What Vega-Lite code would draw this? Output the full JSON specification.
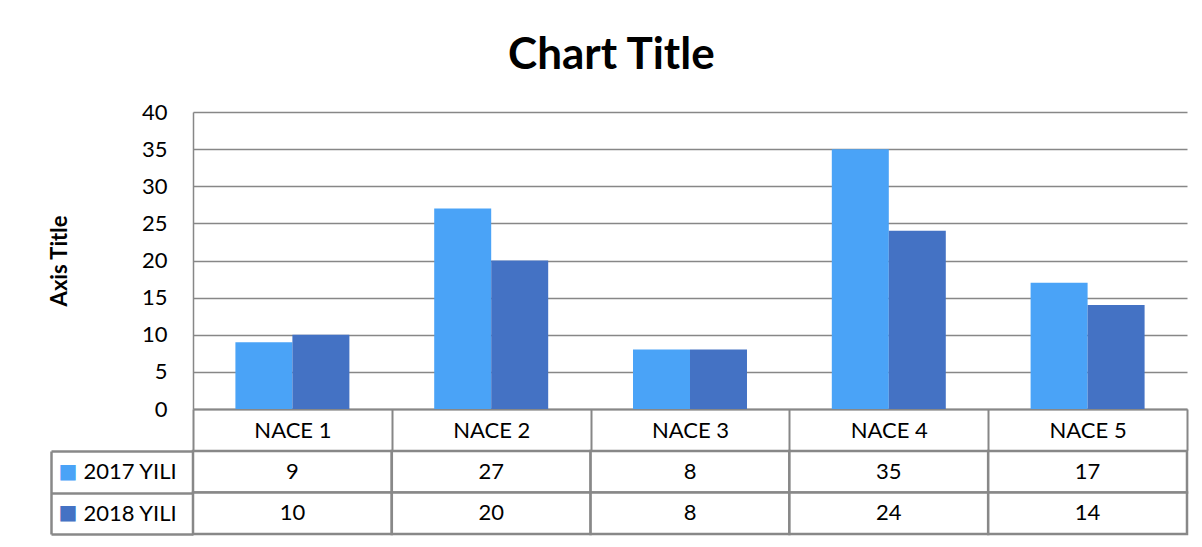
{
  "$schema": "https://vega.github.io/schema/vega-lite/v6.json",
  "padding": {"left": 48, "top": 34, "right": 10, "bottom": 10},
  "background": "white",
  "title": {"text": "Chart Title", "fontSize": 44, "font": "Lato", "fontWeight": "bold", "color": "#000000", "anchor": "middle", "offset": 23, "dx": -7},
  "data": {"values": [
    {"category": "NACE 1", "series": "2017 YILI", "value": 9},
    {"category": "NACE 1", "series": "2018 YILI", "value": 10},
    {"category": "NACE 2", "series": "2017 YILI", "value": 27},
    {"category": "NACE 2", "series": "2018 YILI", "value": 20},
    {"category": "NACE 3", "series": "2017 YILI", "value": 8},
    {"category": "NACE 3", "series": "2018 YILI", "value": 8},
    {"category": "NACE 4", "series": "2017 YILI", "value": 35},
    {"category": "NACE 4", "series": "2018 YILI", "value": 24},
    {"category": "NACE 5", "series": "2017 YILI", "value": 17},
    {"category": "NACE 5", "series": "2018 YILI", "value": 14}
  ]},
  "spacing": -12,
  "config": {"view": {"stroke": null}, "font": "Lato"},
  "vconcat": [
    {
      "width": 994,
      "height": 297,
      "mark": {"type": "bar"},
      "encoding": {
        "x": {"field": "category", "type": "nominal", "scale": {"paddingInner": 0, "paddingOuter": 0},
          "axis": {"title": null, "labelAngle": 0, "labelFontSize": 22, "labelColor": "#000000", "labelBaseline": "middle", "labelPadding": -20,
            "tickBand": "extent", "tickSize": 41, "tickColor": "#878787", "tickWidth": 2, "domainColor": "#878787", "domainWidth": 2}},
        "xOffset": {"field": "series", "scale": {"paddingInner": 0, "paddingOuter": 0.744}},
        "y": {"field": "value", "type": "quantitative", "scale": {"domain": [0, 40]},
          "axis": {"values": [0, 5, 10, 15, 20, 25, 30, 35, 40], "title": "Axis Title", "titleFontSize": 22, "titleFontWeight": "bold", "titleColor": "#000000", "titlePadding": 70,
            "labelFontSize": 22, "labelColor": "#000000", "labelPadding": 26, "ticks": false,
            "domainColor": "#878787", "domainWidth": 1.5, "gridColor": "#878787", "gridWidth": 1.5, "gridOpacity": 1}},
        "color": {"field": "series", "type": "nominal", "scale": {"domain": ["2017 YILI", "2018 YILI"], "range": ["#4aa3f7", "#4472c4"]}, "legend": null}
      }
    },
    {
      "width": 994,
      "height": 83,
      "layer": [
        {
          "mark": {"type": "rect", "fill": "white", "stroke": "#888888", "strokeWidth": 2.5},
          "encoding": {
            "x": {"field": "category", "type": "nominal", "scale": {"paddingInner": 0, "paddingOuter": 0}, "axis": null},
            "y": {"field": "series", "type": "nominal", "scale": {"paddingInner": 0, "paddingOuter": 0},
              "axis": {"orient": "left", "title": null, "offset": 142, "domainColor": "#888888", "domainWidth": 2.5, "tickBand": "extent", "tickSize": -142, "tickColor": "#888888", "tickWidth": 2.5,
                "labelAlign": "left", "labelPadding": 110, "labelFontSize": 22, "labelColor": "#000000", "labelBaseline": "middle"}}
          }
        },
        {
          "mark": {"type": "text", "fontSize": 22, "color": "#000000"},
          "encoding": {
            "x": {"field": "category", "type": "nominal", "axis": null},
            "y": {"field": "series", "type": "nominal",
              "axis": {"orient": "left", "title": null, "offset": 142, "domain": false, "ticks": false, "labelExpr": "'■'", "labelFont": "DejaVu Sans", "labelFontSize": 20,
                "labelAlign": "left", "labelPadding": -7, "labelBaseline": "middle",
                "labelColor": {"condition": {"test": "datum.value === '2017 YILI'", "value": "#4aa3f7"}, "value": "#4472c4"}}},
            "text": {"field": "value", "type": "quantitative"}
          }
        }
      ],
      "resolve": {"axis": {"y": "independent"}}
    }
  ]
}
